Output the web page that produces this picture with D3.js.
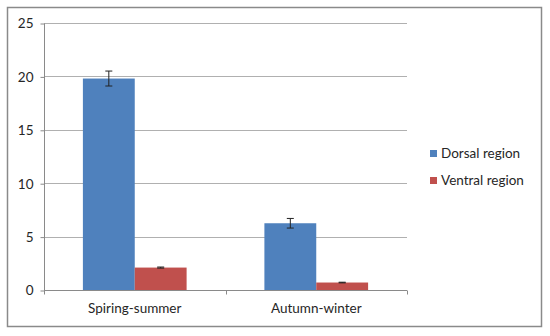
<!DOCTYPE html>
<html>
<head>
<meta charset="utf-8">
<script src="https://cdn.jsdelivr.net/npm/d3@7"></script>
<style>
  body { margin: 0; background: #fff; }
  text { font-family: Lato, "Open Sans", sans-serif; fill: #262626; }
</style>
</head>
<body>
<div id="chart"></div>
<script>
// chart data
var categories = ["Spiring-summer", "Autumn-winter"];
var seriesNames = ["Dorsal region", "Ventral region"];
var dorsal = [19.8, 6.25];
var ventral = [2.1, 0.7];
var dorsalErr = [0.7, 0.45];
var ventralErr = [0.05, 0.03];
var yTicks = [0, 5, 10, 15, 20, 25];

var COLORS = ["#4F81BD", "#C0504D"];
var W = 550, H = 336;
var plot = {left: 44, right: 407, top: 23, bottom: 290};

var svg = d3.select("#chart").append("svg")
    .attr("width", W)
    .attr("height", H);

// outer frame
svg.append("rect")
    .attr("x", 7.5).attr("y", 7.5)
    .attr("width", 534).attr("height", 319)
    .attr("fill", "#fff")
    .attr("stroke", "#8a8a8a")
    .attr("stroke-width", 1.5);

var y = d3.scaleLinear().domain([0, 25]).range([plot.bottom, plot.top]);
var x0 = d3.scaleBand().domain(categories).range([plot.left, plot.right]);
var x1 = d3.scaleBand().domain(seriesNames)
    .range([0, x0.bandwidth()])
    .paddingOuter(0.75);

// gridlines
svg.append("g").selectAll("line")
    .data(yTicks.filter(function(d) { return d > 0; }))
    .enter().append("line")
    .attr("x1", plot.left).attr("x2", plot.right)
    .attr("y1", function(d) { return Math.round(y(d)) + 0.5; })
    .attr("y2", function(d) { return Math.round(y(d)) + 0.5; })
    .attr("stroke", "#b0b0b0");

// y axis
var yAxis = svg.append("g")
    .attr("transform", "translate(" + (plot.left + 0.5) + ",0.5)")
    .call(d3.axisLeft(y).tickValues(yTicks).tickSize(4).tickPadding(7));
yAxis.selectAll("line, path").attr("stroke", "#8a8a8a");
yAxis.select(".domain").attr("d", "M0," + plot.top + "V" + plot.bottom);
yAxis.selectAll("text").style("font-size", "13.5px").style("font-family", "Lato, 'Open Sans', sans-serif").attr("fill", "#262626");

// x axis
var xAxisG = svg.append("g")
    .attr("transform", "translate(0," + (plot.bottom + 0.5) + ")");
xAxisG.append("line")
    .attr("x1", plot.left).attr("x2", plot.right)
    .attr("stroke", "#8a8a8a");
xAxisG.selectAll(".tk")
    .data([plot.left, x0(categories[1]), plot.right])
    .enter().append("line")
    .attr("x1", function(d) { return Math.round(d) + 0.5; })
    .attr("x2", function(d) { return Math.round(d) + 0.5; })
    .attr("y1", 0).attr("y2", 4)
    .attr("stroke", "#8a8a8a");
xAxisG.selectAll("text")
    .data(categories)
    .enter().append("text")
    .attr("x", function(d) { return x0(d) + x0.bandwidth() / 2; })
    .attr("y", 22)
    .attr("text-anchor", "middle")
    .style("font-size", "13.5px")
    .text(function(d) { return d; });

// bars
var rows = categories.map(function(c, i) {
    return [
        {cat: c, s: seriesNames[0], v: dorsal[i], e: dorsalErr[i], c: COLORS[0]},
        {cat: c, s: seriesNames[1], v: ventral[i], e: ventralErr[i], c: COLORS[1]}
    ];
});

var groups = svg.append("g").selectAll("g")
    .data(rows)
    .enter().append("g")
    .attr("transform", function(d) { return "translate(" + x0(d[0].cat) + ",0)"; });

groups.selectAll("rect")
    .data(function(d) { return d; })
    .enter().append("rect")
    .attr("x", function(d) { return x1(d.s); })
    .attr("width", x1.bandwidth())
    .attr("y", function(d) { return y(d.v); })
    .attr("height", function(d) { return y(0) - y(d.v); })
    .attr("fill", function(d) { return d.c; });

// error bars
var err = groups.selectAll(".err")
    .data(function(d) { return d; })
    .enter().append("g")
    .attr("transform", function(d) { return "translate(" + (x1(d.s) + x1.bandwidth() / 2) + ",0)"; })
    .attr("stroke", "#222")
    .attr("stroke-width", 1);
err.append("line")
    .attr("y1", function(d) { return y(d.v + d.e); })
    .attr("y2", function(d) { return y(d.v - d.e); });
err.append("line")
    .attr("x1", -3.5).attr("x2", 3.5)
    .attr("y1", function(d) { return y(d.v + d.e); })
    .attr("y2", function(d) { return y(d.v + d.e); });
err.append("line")
    .attr("x1", -3.5).attr("x2", 3.5)
    .attr("y1", function(d) { return y(d.v - d.e); })
    .attr("y2", function(d) { return y(d.v - d.e); });

// legend
var legend = svg.append("g").selectAll("g")
    .data(seriesNames)
    .enter().append("g")
    .attr("transform", function(d, i) { return "translate(430," + (150 + i * 27) + ")"; });
legend.append("rect")
    .attr("width", 7).attr("height", 7)
    .attr("fill", function(d, i) { return COLORS[i]; });
legend.append("text")
    .attr("x", 11).attr("y", 8)
    .style("font-size", "13.5px")
    .text(function(d) { return d; });
</script>
</body>
</html>
